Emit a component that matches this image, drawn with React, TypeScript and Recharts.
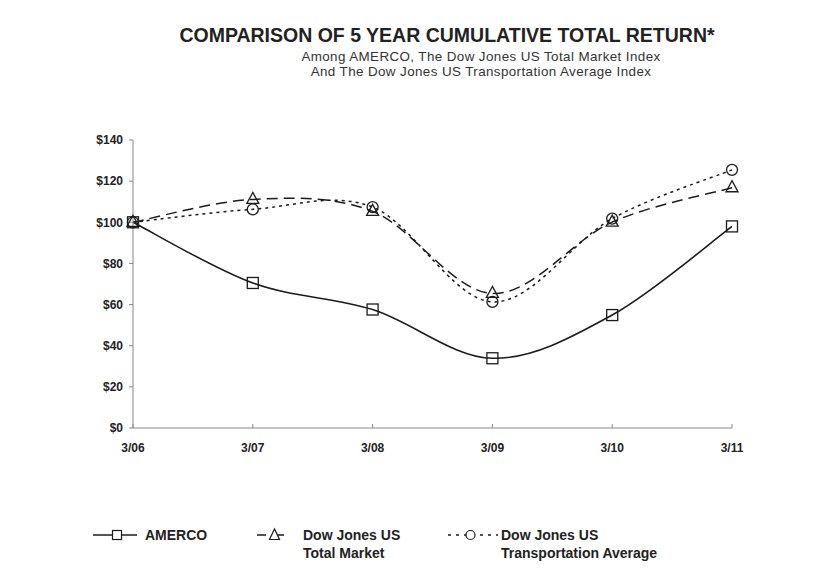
import React from 'react';
import { LineChart, Line, XAxis, YAxis } from 'recharts';

const years = ['3/06', '3/07', '3/08', '3/09', '3/10', '3/11'];
const amerco = [100, 70.5, 57.6, 33.9, 54.9, 98.0];
const totalMarket = [100, 111.1, 105.3, 65.4, 100.1, 116.8];
const transport = [100, 106.3, 107.4, 61.3, 101.8, 125.5];
const yTicks = [0, 20, 40, 60, 80, 100, 120, 140];

const data = years.map((y, i) => ({
  year: y,
  amerco: amerco[i],
  total: totalMarket[i],
  transport: transport[i],
}));

const ink = '#1c1c1c';

// spreadsheet-style smoothed line (catmull-rom through every point)
const smoothCurve = (context: any) => {
  let pts: number[][] = [];
  return {
    areaStart() {},
    areaEnd() {},
    lineStart() {
      pts = [];
    },
    point(x: number, y: number) {
      pts.push([+x, +y]);
    },
    lineEnd() {
      if (!pts.length) return;
      context.moveTo(pts[0][0], pts[0][1]);
      for (let i = 0; i < pts.length - 1; i++) {
        const p0 = pts[Math.max(i - 1, 0)];
        const p1 = pts[i];
        const p2 = pts[i + 1];
        const p3 = pts[Math.min(i + 2, pts.length - 1)];
        context.bezierCurveTo(
          p1[0] + (p2[0] - p0[0]) / 6,
          p1[1] + (p2[1] - p0[1]) / 6,
          p2[0] - (p3[0] - p1[0]) / 6,
          p2[1] - (p3[1] - p1[1]) / 6,
          p2[0],
          p2[1]
        );
      }
    },
  };
};

const SquareDot = (props: any) => {
  const { cx, cy, index } = props;
  return <rect key={`s${index}`} x={cx - 5.5} y={cy - 5.5} width={11} height={11} fill="none" stroke={ink} strokeWidth={1.3} />;
};

const TriangleDot = (props: any) => {
  const { cx, cy, index } = props;
  return (
    <polygon
      key={`t${index}`}
      points={`${cx},${cy - 7} ${cx - 6},${cy + 4} ${cx + 6},${cy + 4}`}
      fill="none"
      stroke={ink}
      strokeWidth={1.3}
    />
  );
};

const CircleDot = (props: any) => {
  const { cx, cy, index } = props;
  return <circle key={`c${index}`} cx={cx} cy={cy} r={5.5} fill="none" stroke={ink} strokeWidth={1.3} />;
};

const tickStyle = { fontFamily: 'Arial, "Liberation Sans", sans-serif', fontSize: 12, fontWeight: 700, fill: '#222' };

const legendText = { position: 'absolute' as const, fontSize: 14, fontWeight: 700, lineHeight: '18px', color: '#222' };

export default function App() {
  return (
    <div
      style={{
        position: 'absolute',
        left: 0,
        top: 0,
        width: 830,
        height: 574,
        background: '#fff',
        fontFamily: 'Arial, "Liberation Sans", sans-serif',
      }}
    >
      <div style={{ position: 'absolute', left: 0, width: 894, top: 24.4, textAlign: 'center', fontSize: 19.5, lineHeight: '23px', fontWeight: 700, color: '#222' }}>
        COMPARISON OF 5 YEAR CUMULATIVE TOTAL RETURN*
      </div>
      <div
        style={{
          position: 'absolute',
          left: 0,
          width: 962,
          top: 48.8,
          textAlign: 'center',
          fontSize: 13.4,
          letterSpacing: 0.4,
          lineHeight: '15.2px',
          color: '#333',
        }}
      >
        <div>Among AMERCO, The Dow Jones US Total Market Index</div>
        <div>And The Dow Jones US Transportation Average Index</div>
      </div>

      <LineChart width={830} height={574} data={data} margin={{ top: 140, right: 98, bottom: 116, left: 0 }}>
        <XAxis
          dataKey="year"
          stroke="#888"
          tickSize={-4}
          tickMargin={19.5}
          tick={tickStyle}
          tickLine={{ stroke: '#888' }}
          height={30}
        />
        <YAxis
          domain={[0, 140]}
          ticks={yTicks}
          width={133}
          stroke="#888"
          tickSize={4}
          tickMargin={6}
          tick={tickStyle}
          tickFormatter={(v: number) => `$${v}`}
          interval={0}
        />
        <Line
          type={smoothCurve as any}
          dataKey="total"
          stroke={ink}
          strokeWidth={1.5}
          strokeDasharray="11 6"
          dot={TriangleDot}
          isAnimationActive={false}
        />
        <Line
          type={smoothCurve as any}
          dataKey="transport"
          stroke={ink}
          strokeWidth={1.5}
          strokeDasharray="3 4"
          dot={CircleDot}
          isAnimationActive={false}
        />
        <Line
          type={smoothCurve as any}
          dataKey="amerco"
          stroke={ink}
          strokeWidth={1.6}
          dot={SquareDot}
          isAnimationActive={false}
        />
      </LineChart>

      <svg width={830} height={40} style={{ position: 'absolute', left: 0, top: 520 }}>
        <line x1={93} y1={15} x2={137} y2={15} stroke={ink} strokeWidth={1.5} />
        <rect x={112.5} y={10.5} width={9} height={9} fill="#fff" stroke={ink} strokeWidth={1.2} />
        <line x1={257} y1={15} x2={292} y2={15} stroke={ink} strokeWidth={1.5} strokeDasharray="9 9" />
        <polygon points="274.5,9 269.5,19.5 279.5,19.5" fill="#fff" stroke={ink} strokeWidth={1.2} />
        <line x1={448} y1={15} x2={498} y2={15} stroke={ink} strokeWidth={1.5} strokeDasharray="3 5" />
        <circle cx={470.5} cy={15} r={4.5} fill="#fff" stroke={ink} strokeWidth={1.2} />
      </svg>
      <div style={{ ...legendText, left: 145, top: 526 }}>AMERCO</div>
      <div style={{ ...legendText, left: 303, top: 526 }}>
        <div>Dow Jones US</div>
        <div>Total Market</div>
      </div>
      <div style={{ ...legendText, left: 501, top: 526 }}>
        <div>Dow Jones US</div>
        <div>Transportation Average</div>
      </div>
    </div>
  );
}
